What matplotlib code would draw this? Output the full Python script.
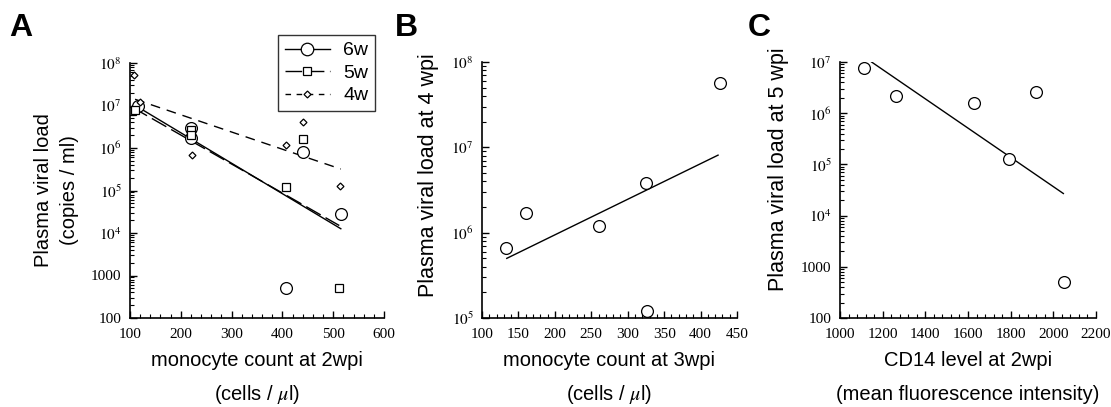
import matplotlib
matplotlib.use('Agg')
import matplotlib.pyplot as plt
from matplotlib.ticker import FuncFormatter, LogLocator, MultipleLocator
import numpy as np

plt.rcParams['font.family'] = 'Liberation Sans'
plt.rcParams['mathtext.fontset'] = 'stix'

# panel A: monocyte count at 2wpi vs viral load
a6_x = [116, 221, 221, 408, 440, 515]
a6_y = [1.0e7, 3.0e6, 1.7e6, 500, 8.0e5, 2.8e4]
a5_x = [103, 110, 221, 221, 408, 440, 512]
a5_y = [7.4e6, 8.0e6, 2.7e6, 2.0e6, 1.2e5, 1.6e6, 500]
a4_x = [108, 120, 222, 408, 440, 513]
a4_y = [5.3e7, 1.2e7, 7.0e5, 1.2e6, 4.0e6, 1.3e5]
a6_fit_x = [113, 515]
a6_fit_y = [9.6e6, 1.26e4]
a5_fit_x = [105, 512]
a5_fit_y = [9.0e6, 1.5e4]
a4_fit_x = [110, 515]
a4_fit_y = [1.4e7, 3.2e5]

# panel B: monocyte count at 3wpi vs viral load at 4 wpi
b_x = [133, 160, 261, 325, 326, 426]
b_y = [6.6e5, 1.7e6, 1.2e6, 3.8e6, 1.2e5, 5.7e7]
b_fit_x = [134, 424]
b_fit_y = [5.0e5, 8.1e6]

# panel C: CD14 level vs viral load at 5 wpi
c_x = [1114, 1262, 1630, 1919, 1794, 2051]
c_y = [7.7e6, 2.15e6, 1.6e6, 2.6e6, 1.3e5, 510]
c_fit_x = [1148, 2047]
c_fit_y = [1.0e7, 2.7e4]


def log_fmt(v, pos):
    n = int(round(np.log10(v)))
    if n <= 3:
        return '%d' % round(v)
    return r'$10^{%d}$' % n


def style(ax, ylo, yhi, xlo, xhi, xstep, xminor):
    ax.set_yscale('log')
    ax.set_ylim(ylo, yhi)
    ax.set_xlim(xlo, xhi)
    ax.xaxis.set_major_locator(MultipleLocator(xstep))
    ax.xaxis.set_minor_locator(MultipleLocator(xminor))
    ax.yaxis.set_major_locator(LogLocator(base=10, numticks=20))
    ax.yaxis.set_minor_locator(LogLocator(base=10, subs=np.arange(2, 10), numticks=20))
    ax.yaxis.set_major_formatter(FuncFormatter(log_fmt))
    ax.yaxis.set_minor_formatter(FuncFormatter(lambda v, p: ''))
    for s in ['top', 'right']:
        ax.spines[s].set_visible(False)
    for s in ['left', 'bottom']:
        ax.spines[s].set_linewidth(1.2)
    ax.tick_params(which='major', direction='in', length=5, width=1, labelsize=11)
    ax.tick_params(axis='x', which='major', pad=7)
    ax.tick_params(axis='y', which='major', pad=6)
    ax.tick_params(which='minor', direction='in', length=3, width=0.8)
    for lab in ax.get_xticklabels() + ax.get_yticklabels():
        lab.set_family('Liberation Serif')


fig = plt.figure(figsize=(11.11, 4.07), dpi=100)
W, H = 1111, 407
axA = fig.add_axes([130 / W, 1 - 318 / H, 254 / W, 255 / H])
axB = fig.add_axes([482 / W, 1 - 318 / H, 255 / W, 256 / H])
axC = fig.add_axes([840 / W, 1 - 318 / H, 256 / W, 256 / H])

mk = dict(mfc='white', mec='black', mew=0.9, color='black')

axA.plot(a6_fit_x, a6_fit_y, '-', color='black', lw=1)
axA.plot(a5_fit_x, a5_fit_y, color='black', lw=1, dashes=(12, 4))
axA.plot(a4_fit_x, a4_fit_y, color='black', lw=1, dashes=(7, 5))
axA.plot(a6_x, a6_y, 'o', ms=8.5, ls='none', **mk)
axA.plot(a5_x, a5_y, 's', ms=6, ls='none', **mk)
axA.plot(a4_x, a4_y, 'D', ms=3.5, ls='none', **mk)
style(axA, 100, 1e8, 100, 600, 100, 20)
h6, = axA.plot([], [], '-', marker='o', ms=9, lw=1, **mk)
h5, = axA.plot([], [], marker='s', ms=6, lw=1, dashes=(12, 4), **mk)
h4, = axA.plot([], [], marker='D', ms=3.5, lw=1, dashes=(4, 4), **mk)
leg = axA.legend([h6, h5, h4], ['6w', '5w', '4w'], loc='upper right',
                 bbox_to_anchor=(0.965, 1.11), fontsize=14, frameon=True,
                 fancybox=False, borderpad=0.35, labelspacing=0.25,
                 handlelength=2.3, handletextpad=0.7, borderaxespad=0)
leg.get_frame().set_edgecolor('black')
leg.get_frame().set_linewidth(1)
axA.set_ylabel('Plasma viral load\n(copies / ml)', fontsize=14.5, linespacing=1.45)
axA.yaxis.set_label_coords(-0.2, 0.5)

axB.plot(b_fit_x, b_fit_y, '-', color='black', lw=1)
axB.plot(b_x, b_y, 'o', ms=8.5, ls='none', **mk)
style(axB, 1e5, 1e8, 100, 450, 50, 10)
axB.set_ylabel('Plasma viral load at 4 wpi', fontsize=15.5)
axB.yaxis.set_label_coords(-0.17, 0.56)

axC.plot(c_fit_x, c_fit_y, '-', color='black', lw=1)
axC.plot(c_x, c_y, 'o', ms=8.5, ls='none', **mk)
style(axC, 100, 1e7, 1000, 2200, 200, 40)
axC.set_ylabel('Plasma viral load at 5 wpi', fontsize=15.5)
axC.yaxis.set_label_coords(-0.2, 0.58)

# x labels (two lines, wide spacing)
for ax, l1, l2 in [(axA, 'monocyte count at 2wpi', r'(cells / $\mu$l)'),
                   (axB, 'monocyte count at 3wpi', r'(cells / $\mu$l)'),
                   (axC, 'CD14 level at 2wpi', '(mean fluorescence intensity)')]:
    pos = ax.get_position()
    cx = (pos.x0 + pos.x1) / 2
    fig.text(cx, 1 - 361 / H, l1, ha='center', va='center', fontsize=14.5)
    fig.text(cx, 1 - 394 / H, l2, ha='center', va='center', fontsize=14.5)

for x, letter in [(9, 'A'), (395, 'B'), (748, 'C')]:
    fig.text(x / W, 1 - 28 / H, letter, fontsize=23, fontweight='bold',
             ha='left', va='center')

fig.savefig('out.png', dpi=100)
